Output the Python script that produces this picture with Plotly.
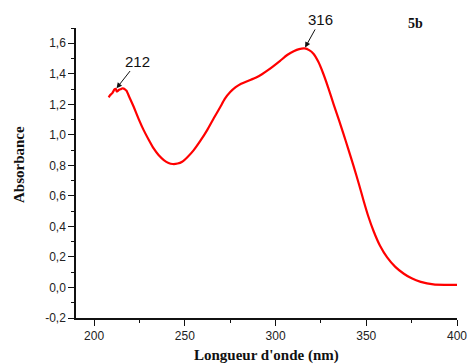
import numpy as np
import plotly.graph_objects as go

# UV-Vis absorption spectrum of compound 5b
wavelength_nm = [208, 209, 209.9, 210.6, 211.2, 212.0, 212.4, 213.0, 213.6, 214.5, 215.3, 215.8,
                 216.8, 217.8, 219.5, 221.8, 224.5, 227.3, 230, 232.8, 235.5, 238.4, 241, 243.3,
                 246, 248.5, 251.5, 254.9, 258.5, 262.3, 266, 269.6, 272, 275, 278, 281,
                 285, 289, 292.5, 296, 299, 302.5, 306.4, 310, 313, 316, 318.5, 321, 323.5,
                 326, 329, 332, 335, 337.6, 340, 343, 346, 348.6, 351, 354, 357.5, 361.5, 366,
                 370.7, 375, 380, 387, 393, 400]
absorbance = [1.246, 1.262, 1.272, 1.285, 1.298, 1.300, 1.284, 1.287, 1.294, 1.298, 1.303, 1.305,
              1.300, 1.289, 1.245, 1.184, 1.105, 1.031, 0.970, 0.911, 0.868, 0.835, 0.816, 0.809,
              0.812, 0.824, 0.855, 0.900, 0.960, 1.031, 1.110, 1.184, 1.235, 1.280, 1.312, 1.335,
              1.355, 1.374, 1.397, 1.425, 1.452, 1.485, 1.523, 1.548, 1.562, 1.566, 1.555, 1.530,
              1.480, 1.410, 1.310, 1.200, 1.095, 1.000, 0.910, 0.795, 0.675, 0.565, 0.470, 0.370,
              0.275, 0.197, 0.135, 0.090, 0.060, 0.037, 0.020, 0.017, 0.017]

# Labelled absorption maxima
peak_nm = [212, 316]
peak_text = ["212", "316"]

x_tick_vals = [200, 250, 300, 350, 400]
x_tick_text = ["200", "250", "300", "350", "400"]
y_tick_vals = [-0.2, 0.0, 0.2, 0.4, 0.6, 0.8, 1.0, 1.2, 1.4, 1.6]
y_tick_text = ["-0,2", "0,0", "0,2", "0,4", "0,6", "0,8", "1,0", "1,2", "1,4", "1,6"]

W, H = 470, 364
ML, MR, MT, MB = 76, 13, 28, 46
PW, PH = W - ML - MR, H - MT - MB


def px_to_paper(px, py):
    """Convert a pixel position on the page to paper coordinates."""
    return (px - ML) / PW, 1 - (py - MT) / PH


fig = go.Figure()
fig.add_trace(go.Scatter(
    x=wavelength_nm, y=absorbance, mode="lines",
    line=dict(color="#ff0000", width=2.2, shape="spline", smoothing=0.5),
    showlegend=False, hoverinfo="x+y",
))

tick_font = dict(family="Liberation Sans, Arial, sans-serif", size=12, color="#222222")
title_font = dict(family="Liberation Serif, Times New Roman, serif", size=15, color="#111111")

# Arrows pointing at the labelled maxima
offsets = [(22, -28), (16, -29)]
for nm, txt, (ax, ay) in zip(peak_nm, peak_text, offsets):
    yv = float(np.interp(nm, wavelength_nm, absorbance))
    fig.add_annotation(
        x=nm, y=yv, xref="x", yref="y", text=txt,
        showarrow=True, arrowhead=2, arrowsize=1.1, arrowwidth=1, arrowcolor="#111111",
        ax=ax, ay=ay, standoff=1,
        font=dict(family="Liberation Sans, Arial, sans-serif", size=15, color="#111111"),
    )

# Sample tag and axis titles placed in page space
tx, ty = px_to_paper(415, 23)
fig.add_annotation(x=tx, y=ty, xref="paper", yref="paper", text="<b>5b</b>", showarrow=False,
                   xanchor="center", yanchor="middle",
                   font=dict(family="Liberation Serif, Times New Roman, serif", size=14, color="#111111"))
tx, ty = px_to_paper(266, 355)
fig.add_annotation(x=tx, y=ty, xref="paper", yref="paper", text="<b>Longueur d'onde (nm)</b>",
                   showarrow=False, xanchor="center", yanchor="middle", font=title_font)
tx, ty = px_to_paper(19, 164)
fig.add_annotation(x=tx, y=ty, xref="paper", yref="paper", text="<b>Absorbance</b>",
                   showarrow=False, xanchor="center", yanchor="middle", textangle=-90, font=title_font)

axis_common = dict(
    showgrid=False, zeroline=False, showline=True, linecolor="#111111", linewidth=1.5,
    ticks="outside", ticklen=6, tickwidth=1.2, tickcolor="#111111", tickfont=tick_font,
    automargin=False, tickmode="array",
)

fig.update_layout(
    width=W, height=H,
    margin=dict(l=ML, r=MR, t=MT, b=MB),
    paper_bgcolor="white", plot_bgcolor="white",
    xaxis=dict(
        range=[190, 400], tickvals=x_tick_vals, ticktext=x_tick_text,
        minor=dict(dtick=25, tick0=200, ticks="outside", ticklen=3, tickcolor="#111111", tickwidth=1),
        **axis_common,
    ),
    yaxis=dict(
        range=[-0.2, 1.7], tickvals=y_tick_vals, ticktext=y_tick_text,
        minor=dict(dtick=0.1, tick0=0, ticks="outside", ticklen=3, tickcolor="#111111", tickwidth=1),
        **axis_common,
    ),
)

fig.write_html("out.html")
